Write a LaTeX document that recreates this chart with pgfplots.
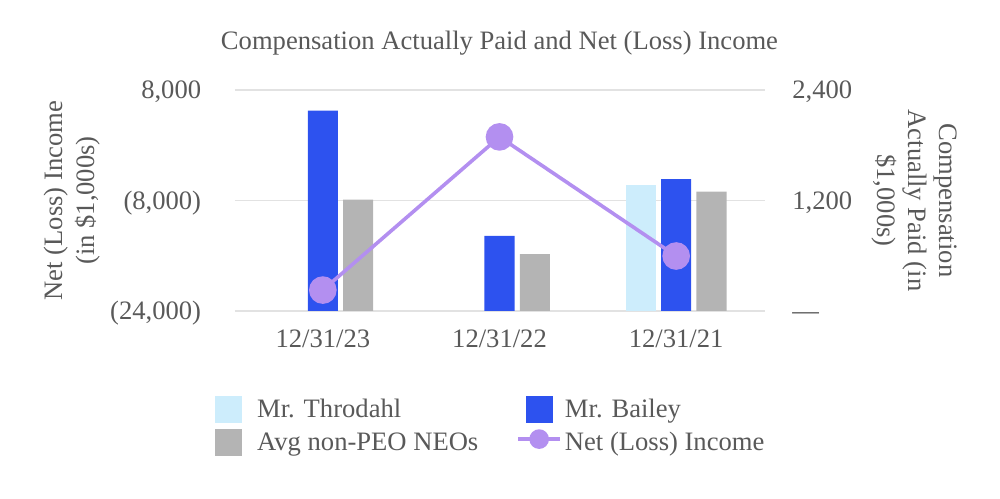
\documentclass[border=0pt]{standalone}
\usepackage{pgfplots}
\pgfplotsset{compat=1.18}
\usepackage{fontspec}
\setmainfont{Liberation Serif}
\definecolor{txt}{HTML}{595959}
\definecolor{thro}{HTML}{CDEDFC}
\definecolor{bail}{HTML}{2D52EF}
\definecolor{avgc}{HTML}{B4B4B4}
\definecolor{linec}{HTML}{B38FF0}
\definecolor{gridc}{HTML}{E2E2E2}
\newcommand{\fs}{\fontsize{13.3}{15.7}\selectfont}
\begin{document}
\begin{tikzpicture}
\path[use as bounding box] (0,0) rectangle (500pt,249pt);
% Bars: compensation actually paid (right axis)
\begin{axis}[
  at={(117.25pt,93.5pt)}, anchor=south west,
  scale only axis, width=265pt, height=110.5pt,
  xmin=-0.5, xmax=2.5, ymin=0, ymax=2400,
  axis y line*=right,
  axis line style={draw=none}, tick style={draw=none},
  scaled y ticks=false,
  xtick=\empty,
  ytick={0,1200,2400}, yticklabels={\textemdash,{1,200},{2,400}},
  ymajorgrids, grid style={gridc, line width=0.8pt},
  yticklabel style={font=\fs, text=txt, anchor=base west, xshift=13.75pt, yshift=-4.4pt, inner sep=0pt},
  every axis y label/.style={at={(axis description cs:1.283,0.5)}, rotate=-90, anchor=center, align=center, font=\fs, text=txt},
  ylabel={Compensation\\Actually Paid (in\\\$1,000s)},
  ybar, bar width=0.17,
]
\addplot[fill=thro, draw=none, bar shift=-0.2] coordinates {(2,1367)};
\addplot[fill=bail, draw=none, bar shift=0] coordinates {(0,2176) (1,817) (2,1433)};
\addplot[fill=avgc, draw=none, bar shift=0.2] coordinates {(0,1209) (1,619) (2,1297)};
\end{axis}
% Line: net (loss) income (left axis)
\begin{axis}[
  at={(117.25pt,93.5pt)}, anchor=south west,
  scale only axis, width=265pt, height=110.5pt,
  xmin=-0.5, xmax=2.5, ymin=-24000, ymax=8000,
  axis y line*=left,
  axis line style={draw=none}, tick style={draw=none},
  scaled y ticks=false,
  clip=false,
  xtick={0,1,2}, xticklabels={12/31/23,12/31/22,12/31/21},
  ytick={-24000,-8000,8000}, yticklabels={{(24,000)},{(8,000)},{8,000}},
  xticklabel style={font=\fs, text=txt, anchor=base, yshift=-18.5pt, inner sep=0pt},
  yticklabel style={font=\fs, text=txt, anchor=base east, xshift=-16.5pt, yshift=-4.4pt, inner sep=0pt},
  every axis y label/.style={at={(axis description cs:-0.3066,0.5)}, rotate=90, anchor=center, align=center, font=\fs, text=txt},
  ylabel={Net (Loss) Income\\(in \$1,000s)},
  title={Compensation Actually Paid and Net (Loss) Income},
  every axis title/.style={at={(axis description cs:0.5,1)}, anchor=base, yshift=20pt, font=\fs, text=txt},
  legend columns=2,
  legend cell align=left,
  legend style={at={(-0.0368,-0.3846)}, anchor=north west, draw=none, fill=none,
    font=\fs, text=txt, inner sep=0pt,
    nodes={inner sep=0pt, text height=10pt, text depth=2pt},
    row sep=2.75pt,
    /tikz/column 1/.style={column sep=7.5pt},
    /tikz/column 2/.style={column sep=19pt},
    /tikz/column 3/.style={column sep=1.5pt}},
]
\addlegendimage{legend image code/.code={\fill[thro] (0pt,-6.5pt) rectangle (13pt,6.5pt);}}
\addlegendentry{Mr. Throdahl}
\addlegendimage{legend image code/.code={\path[draw=none,fill=none] (0pt,0pt) -- (21pt,0pt); \fill[bail] (4pt,-6.5pt) rectangle (17pt,6.5pt);}}
\addlegendentry{Mr. Bailey}
\addlegendimage{legend image code/.code={\fill[avgc] (0pt,-6.5pt) rectangle (13pt,6.5pt);}}
\addlegendentry{Avg non-PEO NEOs}
\addplot[linec, line width=1.8pt, mark=*, mark size=6pt, mark options={fill=linec, draw=linec},
  legend image code/.code={\path[draw=none,fill=none] (0pt,-6.5pt) -- (0pt,6.5pt); \draw[linec, line width=1.8pt] (0pt,1.5pt) -- (21pt,1.5pt); \fill[linec] (10.5pt,1.5pt) circle (4pt);}]
  coordinates {(0,-20971) (1,1209) (2,-16037)};
\addlegendentry{Net (Loss) Income}
\end{axis}
\end{tikzpicture}
\end{document}
